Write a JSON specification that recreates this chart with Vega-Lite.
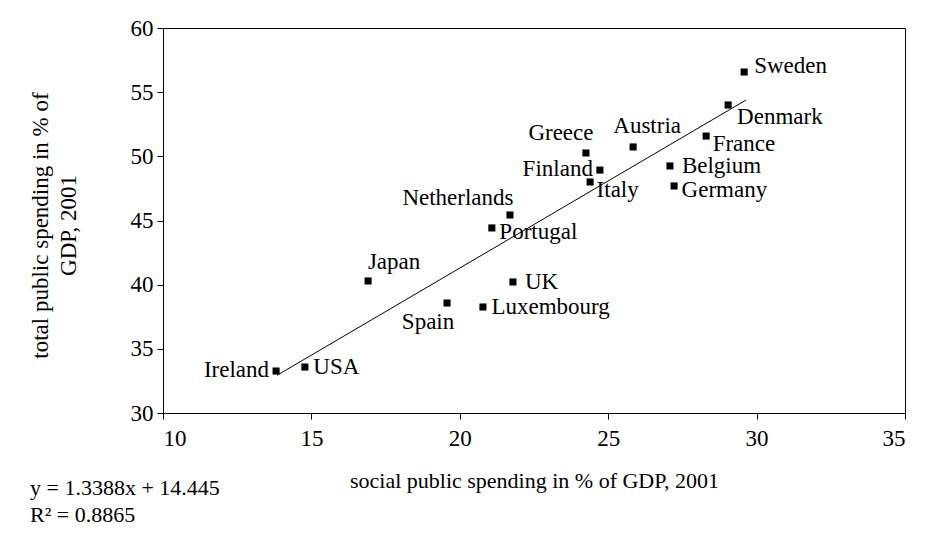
{
  "$schema": "https://vega.github.io/schema/vega-lite/v6.json",
  "width": 742,
  "height": 385,
  "autosize": "none",
  "padding": {"left": 163, "top": 28, "right": 22, "bottom": 129},
  "background": "white",
  "config": {
    "view": {"stroke": "black", "strokeWidth": 1},
    "font": "Liberation Serif",
    "axis": {
      "grid": false,
      "domainColor": "black",
      "tickColor": "black",
      "tickSize": 6,
      "labelFont": "Liberation Serif",
      "labelFontSize": 23,
      "labelColor": "black",
      "titleFont": "Liberation Serif",
      "titleFontSize": 22,
      "titleFontWeight": "normal",
      "titleColor": "black"
    }
  },
  "title": {
    "text": ["y = 1.3388x + 14.445", "R² = 0.8865"],
    "orient": "bottom",
    "anchor": "start",
    "frame": "group",
    "dx": -133,
    "offset": -13,
    "font": "Liberation Serif",
    "fontSize": 22,
    "fontWeight": "normal",
    "color": "black",
    "lineHeight": 27
  },
  "data": {
    "values": [
      {"country": "Sweden", "social": 29.58, "total": 56.57},
      {"country": "Denmark", "social": 29.04, "total": 54.0},
      {"country": "France", "social": 28.3, "total": 51.58},
      {"country": "Austria", "social": 25.84, "total": 50.73},
      {"country": "Greece", "social": 24.25, "total": 50.26},
      {"country": "Finland", "social": 24.72, "total": 48.93},
      {"country": "Italy", "social": 24.39, "total": 48.0},
      {"country": "Belgium", "social": 27.08, "total": 49.25},
      {"country": "Germany", "social": 27.22, "total": 47.69},
      {"country": "Netherlands", "social": 21.69, "total": 45.43},
      {"country": "Portugal", "social": 21.08, "total": 44.42},
      {"country": "Japan", "social": 16.91, "total": 40.29},
      {"country": "UK", "social": 21.79, "total": 40.21},
      {"country": "Spain", "social": 19.57, "total": 38.57},
      {"country": "Luxembourg", "social": 20.78, "total": 38.26},
      {"country": "Ireland", "social": 13.81, "total": 33.27},
      {"country": "USA", "social": 14.78, "total": 33.58}
    ]
  },
  "encoding": {
    "x": {
      "field": "social",
      "type": "quantitative",
      "scale": {"domain": [10, 35], "nice": false, "zero": false},
      "axis": {
        "title": "social public spending in % of GDP, 2001",
        "values": [10, 15, 20, 25, 30, 35],
        "labelPadding": 8,
        "titlePadding": 20
      }
    },
    "y": {
      "field": "total",
      "type": "quantitative",
      "scale": {"domain": [30, 60], "nice": false, "zero": false},
      "axis": {
        "title": ["total public spending in % of", "GDP, 2001"],
        "values": [30, 35, 40, 45, 50, 55, 60],
        "labelPadding": 4,
        "titleFontSize": 23,
        "titlePadding": 50,
        "titleLineHeight": 28,
        "titleY": 197,
        "titleAlign": "center"
      }
    }
  },
  "layer": [
    {
      "transform": [
        {"regression": "total", "on": "social", "method": "linear", "extent": [13.84, 29.64]}
      ],
      "mark": {"type": "line", "color": "black", "strokeWidth": 1}
    },
    {
      "mark": {"type": "point", "shape": "square", "filled": true, "color": "black", "opacity": 1, "size": 50}
    },
    {
      "transform": [{"filter": {"field": "country", "oneOf": ["Belgium", "UK"]}}],
      "mark": {"type": "text", "align": "left", "baseline": "middle", "dx": 12, "dy": 0, "fontSize": 23, "font": "Liberation Serif", "color": "black"},
      "encoding": {"text": {"field": "country"}}
    },
    {
      "transform": [{"filter": {"field": "country", "oneOf": ["Luxembourg", "USA"]}}],
      "mark": {"type": "text", "align": "left", "baseline": "middle", "dx": 8.5, "dy": 0, "fontSize": 23, "font": "Liberation Serif", "color": "black"},
      "encoding": {"text": {"field": "country"}}
    },
    {
      "transform": [{"filter": {"field": "country", "oneOf": ["Portugal", "Germany"]}}],
      "mark": {"type": "text", "align": "left", "baseline": "middle", "dx": 7.5, "dy": 4, "fontSize": 23, "font": "Liberation Serif", "color": "black"},
      "encoding": {"text": {"field": "country"}}
    },
    {
      "transform": [{"filter": {"field": "country", "oneOf": ["France", "Italy"]}}],
      "mark": {"type": "text", "align": "left", "baseline": "middle", "dx": 6.5, "dy": 8, "fontSize": 23, "font": "Liberation Serif", "color": "black"},
      "encoding": {"text": {"field": "country"}}
    },
    {
      "transform": [{"filter": {"field": "country", "oneOf": ["Sweden"]}}],
      "mark": {"type": "text", "align": "left", "baseline": "middle", "dx": 10, "dy": -6, "fontSize": 23, "font": "Liberation Serif", "color": "black"},
      "encoding": {"text": {"field": "country"}}
    },
    {
      "transform": [{"filter": {"field": "country", "oneOf": ["Denmark"]}}],
      "mark": {"type": "text", "align": "left", "baseline": "middle", "dx": 9, "dy": 12, "fontSize": 23, "font": "Liberation Serif", "color": "black"},
      "encoding": {"text": {"field": "country"}}
    },
    {
      "transform": [{"filter": {"field": "country", "oneOf": ["Ireland", "Finland"]}}],
      "mark": {"type": "text", "align": "right", "baseline": "middle", "dx": -7, "dy": -1, "fontSize": 23, "font": "Liberation Serif", "color": "black"},
      "encoding": {"text": {"field": "country"}}
    },
    {
      "transform": [{"filter": {"field": "country", "oneOf": ["Greece"]}}],
      "mark": {"type": "text", "align": "center", "baseline": "middle", "dx": -25, "dy": -20, "fontSize": 23, "font": "Liberation Serif", "color": "black"},
      "encoding": {"text": {"field": "country"}}
    },
    {
      "transform": [{"filter": {"field": "country", "oneOf": ["Austria"]}}],
      "mark": {"type": "text", "align": "center", "baseline": "middle", "dx": 14, "dy": -21, "fontSize": 23, "font": "Liberation Serif", "color": "black"},
      "encoding": {"text": {"field": "country"}}
    },
    {
      "transform": [{"filter": {"field": "country", "oneOf": ["Netherlands"]}}],
      "mark": {"type": "text", "align": "center", "baseline": "middle", "dx": -52, "dy": -17, "fontSize": 23, "font": "Liberation Serif", "color": "black"},
      "encoding": {"text": {"field": "country"}}
    },
    {
      "transform": [{"filter": {"field": "country", "oneOf": ["Japan"]}}],
      "mark": {"type": "text", "align": "center", "baseline": "middle", "dx": 26, "dy": -19, "fontSize": 23, "font": "Liberation Serif", "color": "black"},
      "encoding": {"text": {"field": "country"}}
    },
    {
      "transform": [{"filter": {"field": "country", "oneOf": ["Spain"]}}],
      "mark": {"type": "text", "align": "center", "baseline": "middle", "dx": -19, "dy": 19, "fontSize": 23, "font": "Liberation Serif", "color": "black"},
      "encoding": {"text": {"field": "country"}}
    }
  ]
}
